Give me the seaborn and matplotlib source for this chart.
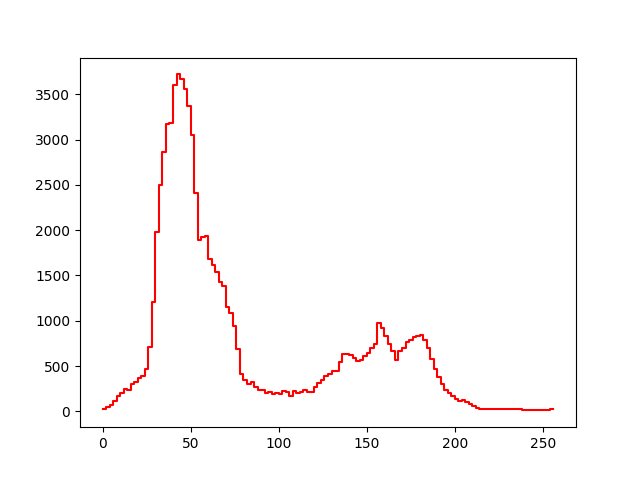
import numpy as np
import pandas as pd
import matplotlib
matplotlib.use("Agg")
import matplotlib.pyplot as plt
import seaborn as sns

# 128-bin grey-level histogram (bin width 2)
bin_edges = np.arange(0, 257, 2)
counts = [
    25, 50, 70, 110, 170, 200, 250, 240, 300, 320,
    370, 390, 470, 710, 1210, 1980, 2500, 2860, 3170, 3180,
    3600, 3720, 3670, 3560, 3370, 3050, 2410, 1890, 1920, 1940,
    1680, 1620, 1540, 1430, 1380, 1150, 1080, 940, 690, 410,
    350, 300, 320, 270, 230, 230, 200, 210, 190, 200,
    190, 220, 210, 170, 220, 200, 210, 230, 210, 210,
    265, 310, 345, 390, 415, 440, 445, 545, 632, 632,
    618, 590, 560, 565, 607, 644, 700, 743, 975, 920,
    828, 743, 670, 570, 662, 700, 765, 790, 820, 835,
    846, 790, 700, 580, 467, 380, 300, 240, 200, 170,
    140, 110, 130, 100, 80, 60, 40, 30, 25, 25,
    25, 20, 30, 20, 20, 20, 20, 20, 20, 15,
    10, 10, 10, 10, 10, 10, 10, 20,
]

df = pd.DataFrame({"x": bin_edges, "count": counts + [counts[-1]]})

fig, ax = plt.subplots(figsize=(6.4, 4.8), dpi=100)
sns.lineplot(data=df, x="x", y="count", color="red", drawstyle="steps-post", ax=ax)
ax.set_xlabel("")
ax.set_ylabel("")
ax.set_xlim(-12.8, 268.8)
plt.savefig("out.png", dpi=100)
